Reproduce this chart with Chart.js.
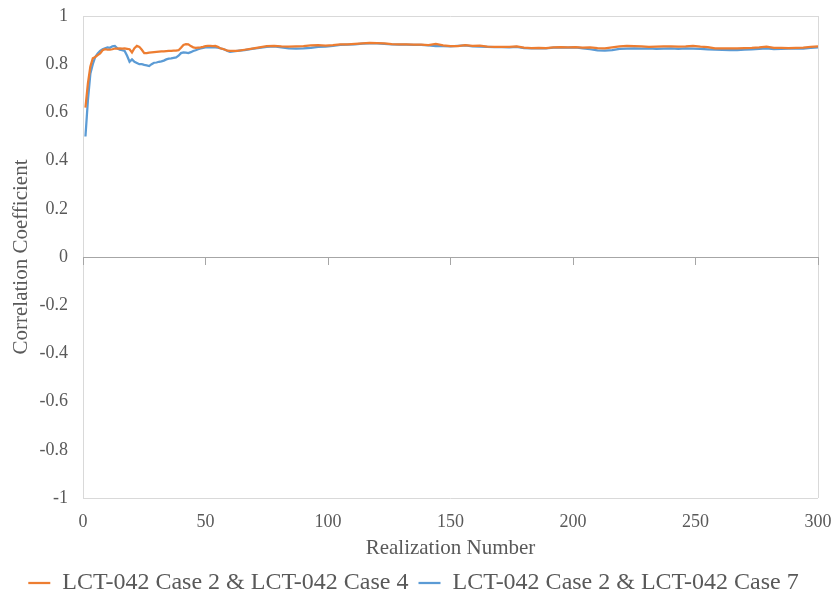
<!DOCTYPE html>
<html>
<head>
<meta charset="utf-8">
<script src="https://cdn.jsdelivr.net/npm/chart.js@4"></script>
<style>
  html, body { margin: 0; padding: 0; background: #fff; }
  #wrap { width: 837px; height: 607px; }
</style>
</head>
<body>
<div id="wrap"><canvas id="corr-chart"></canvas></div>
<script>
/* Realization numbers the values were read at */
let realizations = [
  1, 2, 3, 4, 5, 6, 7, 8, 9, 10, 11, 12, 13, 14, 15, 16, 17, 18, 19, 20,
  21, 22, 23, 24, 25, 26, 27, 28, 29, 30, 31, 32, 33, 34, 35, 36, 37, 38, 39, 40,
  41, 42, 43, 44, 45, 46, 47, 48, 49, 50, 51, 52, 53, 54, 55, 56, 57, 58, 59, 60,
  63, 66, 69, 72, 75, 78, 81, 84, 87, 90, 93, 96, 99, 102, 105, 108, 111, 114, 117, 120,
  123, 126, 129, 132, 135, 138, 141, 144, 147, 150, 153, 156, 159, 162, 165, 168, 171, 174, 177, 180,
  183, 186, 189, 192, 195, 198, 201, 204, 207, 210, 213, 216, 219, 222, 225, 228, 231, 234, 237, 240,
  243, 246, 249, 252, 255, 258, 261, 264, 267, 270, 273, 276, 279, 282, 285, 288, 291, 294, 297, 300
]

/* Case 2 vs Case 4 (orange) */
let case4Values = [
  0.62, 0.72, 0.79, 0.825, 0.83, 0.838, 0.845, 0.858, 0.862, 0.86, 0.86, 0.862, 0.865, 0.865, 0.866, 0.865, 0.866, 0.864, 0.862, 0.849,
  0.866, 0.876, 0.872, 0.86, 0.846, 0.846, 0.848, 0.849, 0.85, 0.851, 0.852, 0.853, 0.853, 0.854, 0.855, 0.855, 0.856, 0.856, 0.858, 0.868,
  0.88, 0.883, 0.882, 0.875, 0.87, 0.868, 0.869, 0.87, 0.872, 0.875, 0.876, 0.876, 0.875, 0.876, 0.872, 0.866, 0.864, 0.86, 0.856, 0.855,
  0.855, 0.86, 0.865, 0.87, 0.875, 0.876, 0.874, 0.873, 0.874, 0.875, 0.878, 0.879, 0.877, 0.879, 0.882, 0.882, 0.884, 0.886, 0.888, 0.887,
  0.886, 0.883, 0.882, 0.882, 0.881, 0.881, 0.879, 0.884, 0.878, 0.875, 0.875, 0.879, 0.876, 0.877, 0.873, 0.872, 0.872, 0.872, 0.874, 0.869,
  0.867, 0.868, 0.867, 0.87, 0.871, 0.87, 0.871, 0.869, 0.87, 0.867, 0.866, 0.87, 0.874, 0.876, 0.875, 0.874, 0.872, 0.873, 0.874, 0.874,
  0.873, 0.874, 0.876, 0.873, 0.871, 0.866, 0.866, 0.866, 0.866, 0.867, 0.868, 0.87, 0.873, 0.868, 0.868, 0.867, 0.868, 0.869, 0.872, 0.874
]

/* Case 2 vs Case 7 (blue) */
let case7Values = [
  0.50, 0.65, 0.76, 0.80, 0.83, 0.845, 0.855, 0.862, 0.866, 0.87, 0.868, 0.874, 0.876, 0.866, 0.86, 0.858, 0.855, 0.835, 0.81, 0.82,
  0.81, 0.805, 0.80, 0.80, 0.797, 0.795, 0.792, 0.80, 0.806, 0.807, 0.81, 0.812, 0.815, 0.82, 0.823, 0.824, 0.826, 0.828, 0.835, 0.846,
  0.849, 0.848, 0.846, 0.85, 0.855, 0.858, 0.862, 0.865, 0.868, 0.87, 0.87, 0.87, 0.871, 0.87, 0.869, 0.866, 0.863, 0.86, 0.855, 0.851,
  0.855, 0.858, 0.864, 0.868, 0.872, 0.874, 0.87, 0.866, 0.865, 0.866, 0.868, 0.872, 0.873, 0.876, 0.88, 0.881, 0.882, 0.885, 0.886, 0.886,
  0.884, 0.882, 0.881, 0.881, 0.88, 0.88, 0.878, 0.875, 0.875, 0.874, 0.876, 0.878, 0.874, 0.873, 0.872, 0.871, 0.871, 0.87, 0.872, 0.867,
  0.866, 0.867, 0.866, 0.869, 0.87, 0.869, 0.87, 0.866, 0.862, 0.857, 0.856, 0.858, 0.864, 0.865, 0.866, 0.865, 0.866, 0.864, 0.865, 0.866,
  0.864, 0.866, 0.865, 0.864, 0.862, 0.86, 0.859, 0.858, 0.858, 0.86, 0.862, 0.864, 0.866, 0.863, 0.864, 0.865, 0.865, 0.865, 0.868, 0.87
]

let seriesNames = ['LCT-042 Case 2 & LCT-042 Case 4', 'LCT-042 Case 2 & LCT-042 Case 7']
let xTicks = [0, 50, 100, 150, 200, 250, 300]

let textColor = '#595959'
let fontFamily = "'Liberation Serif', 'DejaVu Serif', serif"

function toPoints(values) {
  return values.map(function(v, i) { return { x: realizations[i], y: v } })
}

let ctx = document.querySelector('#corr-chart').getContext('2d')

let corrChart = new Chart(ctx, {
  type: 'line',
  data: {
    datasets: [
      {
        label: seriesNames[0],
        data: toPoints(case4Values),
        borderColor: '#ED7D31',
        backgroundColor: '#ED7D31',
        borderWidth: 2.25,
        pointRadius: 0,
        tension: 0
      },
      {
        label: seriesNames[1],
        data: toPoints(case7Values),
        borderColor: '#5B9BD5',
        backgroundColor: '#5B9BD5',
        borderWidth: 2.25,
        pointRadius: 0,
        tension: 0
      }
    ]
  },
  options: {
    responsive: true,
    maintainAspectRatio: false,
    animation: false,
    layout: { padding: { top: 16, right: 19, left: 9, bottom: 2 } },
    plugins: {
      tooltip: { enabled: false },
      legend: {
        position: 'bottom',
        labels: {
          color: textColor,
          font: { family: fontFamily, size: 24 },
          usePointStyle: true,
          pointStyle: 'line',
          pointStyleWidth: 22,
          padding: 10
        }
      }
    },
    scales: {
      x: {
        type: 'linear',
        min: 0,
        max: 300,
        afterBuildTicks: function(axis) {
          axis.ticks = xTicks.map(function(v) { return { value: v } })
        },
        afterFit: function(axis) {
          axis.height = 63
          axis.paddingLeft = 0
          axis.paddingRight = 0
        },
        ticks: { color: textColor, font: { family: fontFamily, size: 18 }, padding: 13 },
        grid: {
          drawTicks: false,
          color: function(c) {
            return (c.tick && (c.tick.value === 0 || c.tick.value === 300)) ? '#d9d9d9' : 'rgba(0,0,0,0)'
          }
        },
        border: { display: false },
        title: {
          display: true,
          text: 'Realization Number',
          color: textColor,
          font: { family: fontFamily, size: 21 },
          padding: { top: 0, bottom: 0 }
        }
      },
      xZero: {
        type: 'linear',
        position: { y: 0 },
        min: 0,
        max: 300,
        afterBuildTicks: function(axis) {
          axis.ticks = xTicks.map(function(v) { return { value: v } })
        },
        ticks: { display: false },
        grid: { drawOnChartArea: false, drawTicks: true, tickLength: 7, color: '#a6a6a6' },
        border: { display: true, color: '#a6a6a6', width: 1 }
      },
      y: {
        min: -1,
        max: 1,
        afterFit: function(axis) {
          axis.width = 74
          axis.paddingTop = 0
          axis.paddingBottom = 0
        },
        ticks: {
          stepSize: 0.2,
          color: textColor,
          font: { family: fontFamily, size: 18 },
          padding: 15,
          callback: function(v) { return String(parseFloat(v.toFixed(1))) }
        },
        grid: {
          drawTicks: false,
          color: function(c) {
            if (!c.tick) return 'rgba(0,0,0,0)'
            let v = Math.round(c.tick.value * 10) / 10
            return (v === 1 || v === -1) ? '#d9d9d9' : 'rgba(0,0,0,0)'
          }
        },
        border: { display: false },
        title: {
          display: true,
          text: 'Correlation Coefficient',
          color: textColor,
          font: { family: fontFamily, size: 21 },
          padding: { top: 0, bottom: 0 }
        }
      }
    }
  }
})
</script>
</body>
</html>
